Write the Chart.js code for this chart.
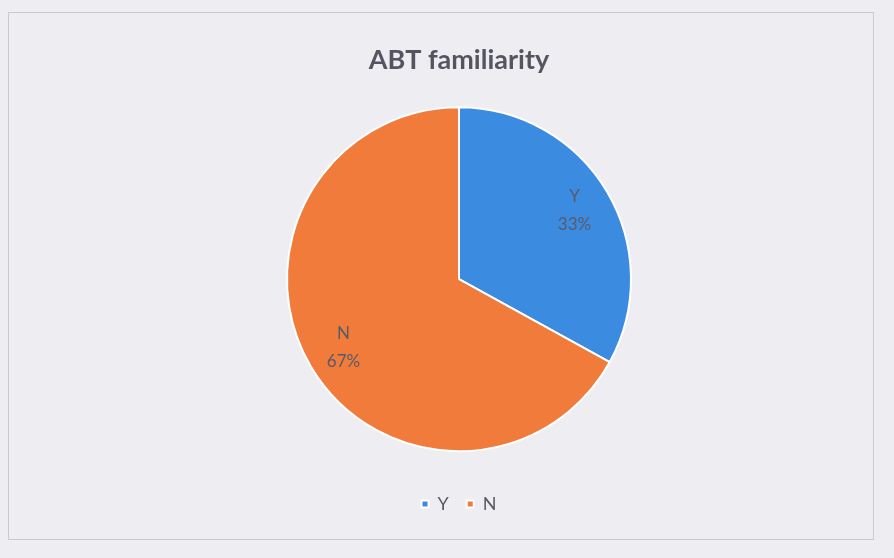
<!DOCTYPE html>
<html>
<head>
<meta charset="utf-8">
<script src="https://cdn.jsdelivr.net/npm/chart.js@4.4.1/dist/chart.umd.min.js"></script>
<style>
  html, body { margin: 0; padding: 0; background: #eeeef2; }
  #frame {
    position: absolute; left: 8px; top: 12px; width: 866px; height: 528px;
    border: 1px solid #c9c9ce; box-sizing: border-box;
  }
  #wrap { position: absolute; left: 0; top: 0; width: 894px; height: 558px; }
</style>
</head>
<body>
<div id="frame"></div>
<div id="wrap"><canvas id="pie" width="894" height="558"></canvas></div>
<script>
const categories = ['Y', 'N'];
const shares = [33, 67];
const sliceColors = ['#3b8ce0', '#f07b3a'];

// category name + percentage drawn inside each slice
const sliceLabels = {
  id: 'sliceLabels',
  afterDatasetsDraw(chart) {
    const ctx = chart.ctx;
    const meta = chart.getDatasetMeta(0);
    ctx.save();
    ctx.font = '17px Lato, "Open Sans", sans-serif';
    ctx.fillStyle = '#5a5a66';
    ctx.textAlign = 'center';
    ctx.textBaseline = 'middle';
    meta.data.forEach((arc, i) => {
      const mid = (arc.startAngle + arc.endAngle) / 2;
      const r = arc.outerRadius * 0.78;
      const x = arc.x + Math.cos(mid) * r;
      const y = arc.y + Math.sin(mid) * r;
      ctx.fillText(categories[i], x, y - 14);
      ctx.fillText(shares[i] + '%', x, y + 14);
    });
    ctx.restore();
  }
};

// side padding keeps the plot area narrow, so the pie size is set by its width
new Chart(document.getElementById('pie'), {
  type: 'pie',
  data: {
    labels: categories,
    datasets: [{
      data: shares,
      backgroundColor: sliceColors,
      borderColor: '#ffffff',
      borderWidth: 2,
    }],
  },
  options: {
    responsive: false,
    animation: false,
    layout: { padding: { left: 286, right: 262, top: 0, bottom: 35 } },
    plugins: {
      title: {
        display: true,
        text: 'ABT familiarity',
        color: '#555560',
        font: { family: 'Lato, "Open Sans", sans-serif', size: 27, weight: 'bold' },
        padding: { top: 44, bottom: 5 },
      },
      legend: {
        position: 'bottom',
        labels: {
          color: '#5a5a66',
          font: { family: 'Lato, "Open Sans", sans-serif', size: 18 },
          boxWidth: 7,
          boxHeight: 7,
          padding: 18,
        },
      },
      tooltip: { enabled: false },
    },
  },
  plugins: [sliceLabels],
});
</script>
</body>
</html>
